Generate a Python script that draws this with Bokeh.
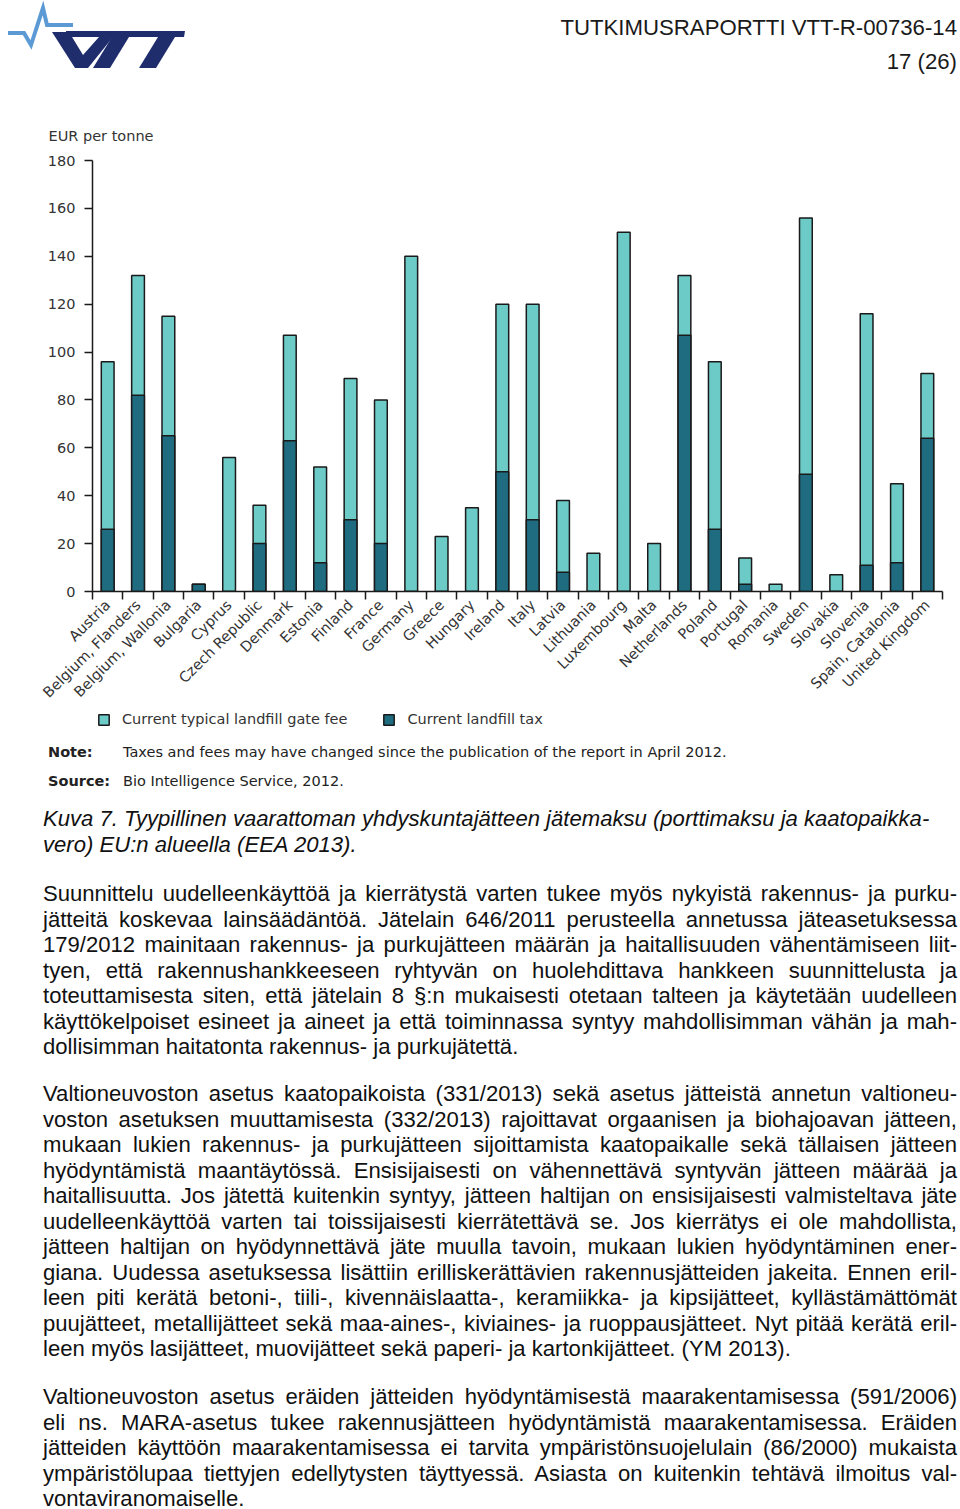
import numpy as np
from math import pi
from bokeh.plotting import figure
from bokeh.models import Range1d, FixedTicker, Legend, LegendItem, Div, LinearAxis
from bokeh.layouts import column
from bokeh.embed import file_html
from bokeh.resources import INLINE

# ---------------- data ----------------
countries = ["Austria", "Belgium, Flanders", "Belgium, Wallonia", "Bulgaria", "Cyprus",
             "Czech Republic", "Denmark", "Estonia", "Finland", "France", "Germany",
             "Greece", "Hungary", "Ireland", "Italy", "Latvia", "Lithuania", "Luxembourg",
             "Malta", "Netherlands", "Poland", "Portugal", "Romania", "Sweden", "Slovakia",
             "Slovenia", "Spain, Catalonia", "United Kingdom"]
gate_fee = [96, 132, 115, 3, 56, 36, 107, 52, 89, 80, 140, 23, 35, 120, 120, 38, 16, 150,
            20, 132, 96, 14, 3, 156, 7, 116, 45, 91]
landfill_tax = [26, 82, 65, 3, 0, 20, 63, 12, 30, 20, 0, 0, 0, 50, 30, 8, 0, 0,
                0, 107, 26, 3, 0, 49, 0, 11, 12, 64]
y_ticks = [0, 20, 40, 60, 80, 100, 120, 140, 160, 180]
series_labels = ["Current typical landfill gate fee", "Current landfill tax"]
y_title = "EUR per tonne"
note_text = "Taxes and fees may have changed since the publication of the report in April 2012."
source_text = "Bio Intelligence Service, 2012."
header_lines = ["TUTKIMUSRAPORTTI VTT-R-00736-14", "17 (26)"]

caption = ["Kuva 7. Tyypillinen vaarattoman yhdyskuntajätteen jätemaksu (porttimaksu ja kaatopaikka-",
           "vero) EU:n alueella (EEA 2013)."]
para1 = ["Suunnittelu uudelleenkäyttöä ja kierrätystä varten tukee myös nykyistä rakennus- ja purku-",
         "jätteitä koskevaa lainsäädäntöä. Jätelain 646/2011 perusteella annetussa jäteasetuksessa",
         "179/2012 mainitaan rakennus- ja purkujätteen määrän ja haitallisuuden vähentämiseen liit-",
         "tyen, että rakennushankkeeseen ryhtyvän on huolehdittava hankkeen suunnittelusta ja",
         "toteuttamisesta siten, että jätelain 8 §:n mukaisesti otetaan talteen ja käytetään uudelleen",
         "käyttökelpoiset esineet ja aineet ja että toiminnassa syntyy mahdollisimman vähän ja mah-",
         "dollisimman haitatonta rakennus- ja purkujätettä."]
para2 = ["Valtioneuvoston asetus kaatopaikoista (331/2013) sekä asetus jätteistä annetun valtioneu-",
         "voston asetuksen muuttamisesta (332/2013) rajoittavat orgaanisen ja biohajoavan jätteen,",
         "mukaan lukien rakennus- ja purkujätteen sijoittamista kaatopaikalle sekä tällaisen jätteen",
         "hyödyntämistä maantäytössä. Ensisijaisesti on vähennettävä syntyvän jätteen määrää ja",
         "haitallisuutta. Jos jätettä kuitenkin syntyy, jätteen haltijan on ensisijaisesti valmisteltava jäte",
         "uudelleenkäyttöä varten tai toissijaisesti kierrätettävä se. Jos kierrätys ei ole mahdollista,",
         "jätteen haltijan on hyödynnettävä jäte muulla tavoin, mukaan lukien hyödyntäminen ener-",
         "giana. Uudessa asetuksessa lisättiin erilliskerättävien rakennusjätteiden jakeita. Ennen eril-",
         "leen piti kerätä betoni-, tiili-, kivennäislaatta-, keramiikka- ja kipsijätteet, kyllästämättömät",
         "puujätteet, metallijätteet sekä maa-aines-, kiviaines- ja ruoppausjätteet. Nyt pitää kerätä eril-",
         "leen myös lasijätteet, muovijätteet sekä paperi- ja kartonkijätteet. (YM 2013)."]
para3 = ["Valtioneuvoston asetus eräiden jätteiden hyödyntämisestä maarakentamisessa (591/2006)",
         "eli ns. MARA-asetus tukee rakennusjätteen hyödyntämistä maarakentamisessa. Eräiden",
         "jätteiden käyttöön maarakentamisessa ei tarvita ympäristönsuojelulain (86/2000) mukaista",
         "ympäristölupaa tiettyjen edellytysten täyttyessä. Asiasta on kuitenkin tehtävä ilmoitus val-",
         "vontaviranomaiselle."]

LIGHT = "#6ccac7"
DARK = "#1f6c81"
EDGE = "#1a1a1a"
CFONT = "DejaVu Sans"
CSIZE = "14.5px"

# ---------------- header (logo + report id) ----------------
logo = ('<svg width="200" height="80" style="position:absolute;left:0;top:0">'
        '<polyline points="8,33 24,33 31,45 43,8 47,25 73,25" fill="none" stroke="#5b9ad5" '
        'stroke-width="4" stroke-linejoin="miter"/>'
        '<polygon points="52,32 69,32 83,55 99,37 113,37 88,68 75,68" fill="#1f2d6d"/>'
        '<polygon points="66,31 185,31 184,37 66,37" fill="#1f2d6d"/>'
        '<polygon points="112,37 129,37 110,68 93,68" fill="#1f2d6d"/>'
        '<polygon points="158,37 175,37 156,68 139,68" fill="#1f2d6d"/>'
        '</svg>')
hdr_style = ("position:absolute;right:3px;font-family:'Liberation Sans',Arial;font-size:22.2px;"
             "line-height:26px;color:#1a1a1a;white-space:nowrap;")
header_html = ('<div style="position:relative;width:960px;height:100px">' + logo +
               '<div style="%stop:%dpx">%s</div>' % (hdr_style, 28 - 13, header_lines[0]) +
               '<div style="%stop:%dpx">%s</div>' % (hdr_style, 62 - 13, header_lines[1]) +
               '</div>')
hdr = Div(text=header_html, width=960, height=100, margin=0)

# ---------------- chart ----------------
n = len(countries)
centers = [i + 0.5 for i in range(n)]
bounds = list(range(n + 1))

p = figure(frame_width=850, frame_height=431, x_range=Range1d(0, n), y_range=Range1d(0, 180),
           x_axis_type=None, y_axis_type=None, output_backend="svg", toolbar_location=None,
           min_border_left=92, min_border_right=18, min_border_top=60, min_border_bottom=118,
           outline_line_color=None, title=y_title, margin=0)
p.title.text_font = CFONT
p.title.text_font_size = CSIZE
p.title.text_font_style = "normal"
p.title.text_color = "#333333"
p.title.align = "left"
p.title.offset = -44
p.title.standoff = 33

bar_style = dict(width=0.42, line_color=EDGE, line_width=1.5)
r_fee = p.vbar(x=centers, top=gate_fee, fill_color=LIGHT, **bar_style)
r_tax = p.vbar(x=centers, top=landfill_tax, fill_color=DARK, **bar_style)

yaxis = LinearAxis(ticker=FixedTicker(ticks=y_ticks, minor_ticks=[]))
yaxis.axis_line_color = EDGE
yaxis.axis_line_width = 1.5
yaxis.major_tick_line_color = EDGE
yaxis.major_tick_line_width = 1.5
yaxis.major_tick_out = 8
yaxis.major_tick_in = 0
yaxis.minor_tick_line_color = None
yaxis.major_label_text_font = CFONT
yaxis.major_label_text_font_size = CSIZE
yaxis.major_label_text_color = "#333333"
yaxis.major_label_standoff = 9
p.add_layout(yaxis, "left")

xaxis = LinearAxis(ticker=FixedTicker(ticks=centers, minor_ticks=bounds))
xaxis.major_label_overrides = {c: name for c, name in zip(centers, countries)}
xaxis.axis_line_color = EDGE
xaxis.axis_line_width = 1.5
xaxis.major_tick_line_color = None
xaxis.major_tick_out = 0
xaxis.major_tick_in = 0
xaxis.minor_tick_line_color = EDGE
xaxis.minor_tick_line_width = 1.5
xaxis.minor_tick_out = 8
xaxis.minor_tick_in = 0
xaxis.major_label_orientation = pi / 4
xaxis.major_label_text_font = CFONT
xaxis.major_label_text_font_size = CSIZE
xaxis.major_label_text_color = "#333333"
xaxis.major_label_standoff = 3
p.add_layout(xaxis, "below")

# ---------------- legend strip under the axis labels ----------------
# same two series styling; the renderers are hidden so only the legend swatches show
lg = figure(width=960, height=28, x_range=Range1d(0, n), y_range=Range1d(0, 180),
            x_axis_type=None, y_axis_type=None, output_backend="svg", toolbar_location=None,
            min_border_left=92, min_border_right=18, min_border_top=0, min_border_bottom=0,
            outline_line_color=None, margin=0)
lr_fee = lg.vbar(x=centers, top=gate_fee, fill_color=LIGHT, **bar_style)
lr_tax = lg.vbar(x=centers, top=landfill_tax, fill_color=DARK, **bar_style)
lr_fee.visible = False
lr_tax.visible = False
legend = Legend(items=[LegendItem(label=series_labels[0], renderers=[lr_fee]),
                       LegendItem(label=series_labels[1], renderers=[lr_tax])],
                orientation="horizontal", location=(5, 10), click_policy="none")
legend.border_line_color = None
legend.background_fill_alpha = 0
legend.label_text_font = CFONT
legend.label_text_font_size = CSIZE
legend.label_text_color = "#333333"
legend.glyph_width = 13
legend.glyph_height = 13
legend.label_height = 13
legend.spacing = 35
legend.label_standoff = 12
legend.padding = 0
legend.margin = 0
legend.inactive_fill_alpha = 0
lg.add_layout(legend)

# ---------------- notes + body text ----------------
DIV_TOP = 737
parts = []
nstyle = ("position:absolute;top:%dpx;left:%dpx;font-family:'DejaVu Sans';font-size:14.5px;"
          "line-height:20px;color:#222;white-space:nowrap;%s")
parts.append('<div style="%s">Note:</div>' % (nstyle % (752 - 10 - DIV_TOP, 48, "font-weight:bold;")))
parts.append('<div style="%s">%s</div>' % (nstyle % (752 - 10 - DIV_TOP, 123, ""), note_text))
parts.append('<div style="%s">Source:</div>' % (nstyle % (781 - 10 - DIV_TOP, 48, "font-weight:bold;")))
parts.append('<div style="%s">%s</div>' % (nstyle % (781 - 10 - DIV_TOP, 123, ""), source_text))

LH = 25.5
blocks = [(caption, 806, True, False), (para1, 881, False, True),
          (para2, 1081, False, True), (para3, 1384, False, True)]
for lines, top0, italic, justify in blocks:
    for k, line in enumerate(lines):
        last = (k == len(lines) - 1)
        align = "justify" if (justify and not last) else "left"
        style = ("position:absolute;left:43px;width:914px;top:%.1fpx;font-family:'Liberation Sans',Arial;"
                 "font-size:22.1px;line-height:%.1fpx;color:#111;text-align:%s;text-align-last:%s;"
                 "white-space:nowrap;%s") % (top0 + k * LH - DIV_TOP, LH, align, align,
                                              "font-style:italic;" if italic else "")
        parts.append('<div style="%s">%s</div>' % (style, line))

html = '<div style="position:relative;width:960px;height:%dpx">%s</div>' % (1509 - DIV_TOP, "".join(parts))
d = Div(text=html, width=960, height=1509 - DIV_TOP, margin=0)

layout = column(hdr, p, lg, d, spacing=0)
open("out.html", "w").write(file_html(layout, INLINE))
